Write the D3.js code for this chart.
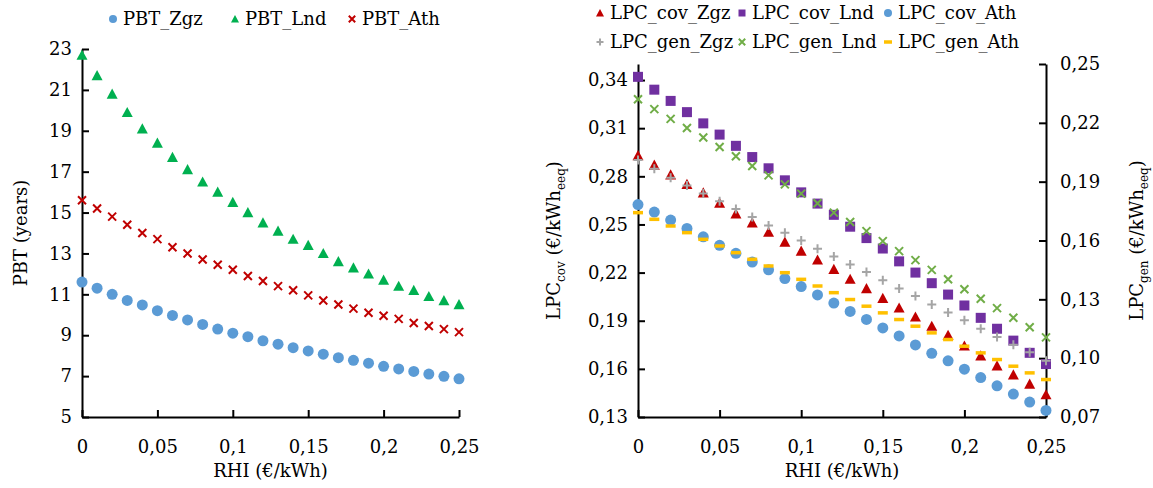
<!DOCTYPE html>
<html>
<head>
<meta charset="utf-8">
<script src="https://cdn.jsdelivr.net/npm/d3@7"></script>
<style>
  body { margin: 0; background: #fff; }
  svg { display: block; }
  text { font-family: "DejaVu Serif", serif; fill: #000; }
</style>
</head>
<body>
<svg id="chart" width="1153" height="488"></svg>
<script>
// RHI tariff (€/kWh) shared by every series
const rhi = [0, 0.01, 0.02, 0.03, 0.04, 0.05, 0.06, 0.07, 0.08, 0.09, 0.10, 0.11, 0.12,
             0.13, 0.14, 0.15, 0.16, 0.17, 0.18, 0.19, 0.20, 0.21, 0.22, 0.23, 0.24, 0.25];

// Payback time (years)
const pbtZgz = [11.6, 11.3, 11.0, 10.7, 10.48, 10.2, 9.97, 9.75, 9.53, 9.3, 9.1, 8.93, 8.73,
                8.56, 8.39, 8.23, 8.07, 7.9, 7.77, 7.63, 7.48, 7.35, 7.23, 7.1, 6.99, 6.87];
const pbtLnd = [22.7, 21.7, 20.8, 19.9, 19.1, 18.4, 17.7, 17.1, 16.5, 16.0, 15.5, 15.0, 14.5,
                14.1, 13.7, 13.4, 13.0, 12.6, 12.3, 12.0, 11.7, 11.4, 11.2, 10.9, 10.7, 10.5];
const pbtAth = [15.6, 15.2, 14.8, 14.4, 14.0, 13.7, 13.3, 13.0, 12.7, 12.45, 12.2, 11.9, 11.65,
                11.4, 11.2, 10.95, 10.7, 10.5, 10.3, 10.1, 9.95, 9.8, 9.6, 9.45, 9.3, 9.15];

// Levelised cost, coverage basis (left axis)
const lpcCovZgz = [0.293, 0.287, 0.281, 0.275, 0.2697, 0.2634, 0.2566, 0.251, 0.2452, 0.239, 0.2334, 0.2279, 0.2221,
                   0.2159, 0.2101, 0.204, 0.198, 0.1924, 0.1866, 0.181, 0.1743, 0.1681, 0.1619, 0.1563, 0.1505, 0.1439];
const lpcCovLnd = [0.342, 0.334, 0.327, 0.320, 0.313, 0.306, 0.299, 0.292, 0.285, 0.2775, 0.270, 0.263, 0.256,
                   0.2486, 0.2415, 0.235, 0.227, 0.220, 0.2134, 0.2063, 0.1995, 0.1918, 0.185, 0.1776, 0.170, 0.163];
const lpcCovAth = [0.2624, 0.2577, 0.2527, 0.2475, 0.2423, 0.237, 0.232, 0.2266, 0.2217, 0.2163, 0.2113, 0.2061, 0.201,
                   0.1958, 0.1908, 0.1855, 0.1805, 0.1749, 0.1697, 0.165, 0.1598, 0.1546, 0.1494, 0.1443, 0.1393, 0.1341];

// Levelised cost, generation basis (right axis)
const lpcGenZgz = [0.201, 0.1966, 0.192, 0.188, 0.184, 0.180, 0.176, 0.172, 0.1677, 0.164, 0.160, 0.1558, 0.1518,
                   0.1478, 0.1439, 0.1397, 0.1355, 0.1317, 0.1274, 0.1233, 0.1193, 0.115, 0.1108, 0.1069, 0.103, 0.0987];
const lpcGenLnd = [0.232, 0.227, 0.222, 0.2174, 0.2125, 0.2077, 0.203, 0.198, 0.1932, 0.1886, 0.1839, 0.179, 0.1742,
                   0.1694, 0.1648, 0.1597, 0.1546, 0.150, 0.145, 0.1402, 0.1351, 0.1303, 0.1255, 0.1206, 0.1158, 0.1106];
const lpcGenAth = [0.1742, 0.1708, 0.1674, 0.164, 0.1606, 0.1572, 0.1538, 0.1504, 0.147, 0.1436, 0.1402, 0.1368, 0.1334,
                   0.1299, 0.1265, 0.1231, 0.1197, 0.1163, 0.1129, 0.1095, 0.1061, 0.1027, 0.0993, 0.0959, 0.0925, 0.0891];

// Axis ticks and their labels
const xTicks = [0, 0.05, 0.1, 0.15, 0.2, 0.25];
const xTickLabels = ["0", "0,05", "0,1", "0,15", "0,2", "0,25"];
const pbtTicks = [5, 7, 9, 11, 13, 15, 17, 19, 21, 23];
const pbtTickLabels = ["5", "7", "9", "11", "13", "15", "17", "19", "21", "23"];
const covTicks = [0.13, 0.16, 0.19, 0.22, 0.25, 0.28, 0.31, 0.34];
const covTickLabels = ["0,13", "0,16", "0,19", "0,22", "0,25", "0,28", "0,31", "0,34"];
const genTicks = [0.07, 0.10, 0.13, 0.16, 0.19, 0.22, 0.25];
const genTickLabels = ["0,07", "0,10", "0,13", "0,16", "0,19", "0,22", "0,25"];

const COLORS = {
  blue: "#5B9BD5", green: "#00B050", red: "#C00000", purple: "#7030A0",
  gray: "#A5A5A5", lime: "#70AD47", yellow: "#FFC000"
};
const FONT = 18;
const FAMILY = '"DejaVu Serif", serif';

const svg = d3.select("#chart");

// Marker painter: s is the nominal marker size in px
function marker(g, type, color, x, y, s) {
  const h = s / 2;
  switch (type) {
    case "circle":
      g.append("circle").attr("cx", x).attr("cy", y).attr("r", h).attr("fill", color);
      break;
    case "triangle":
      g.append("path").attr("d", `M${x},${y - h}L${x + h},${y + h * 0.85}L${x - h},${y + h * 0.85}Z`).attr("fill", color);
      break;
    case "square":
      g.append("rect").attr("x", x - h).attr("y", y - h).attr("width", s).attr("height", s).attr("fill", color);
      break;
    case "cross":
      g.append("path").attr("d", `M${x - h * 0.8},${y - h * 0.8}L${x + h * 0.8},${y + h * 0.8}M${x - h * 0.8},${y + h * 0.8}L${x + h * 0.8},${y - h * 0.8}`)
        .attr("stroke", color).attr("stroke-width", 2).attr("fill", "none");
      break;
    case "plus":
      g.append("path").attr("d", `M${x - h},${y}L${x + h},${y}M${x},${y - h}L${x},${y + h}`)
        .attr("stroke", color).attr("stroke-width", 2).attr("fill", "none");
      break;
    case "dash":
      g.append("path").attr("d", `M${x - h},${y}L${x + h},${y}`)
        .attr("stroke", color).attr("stroke-width", 3.5).attr("fill", "none");
      break;
  }
}

function styleAxis(g) {
  g.selectAll("path.domain").attr("stroke", "#000").attr("stroke-width", 2);
  g.selectAll(".tick line").attr("stroke", "#000").attr("stroke-width", 2);
  g.selectAll(".tick text").attr("font-size", FONT).attr("font-family", FAMILY).attr("fill", "#000");
}

function plotSeries(g, data, xs, ys, type, color, size) {
  const layer = g.append("g");
  data.forEach((v, i) => marker(layer, type, color, xs(rhi[i]), ys(v), size));
}

function legendItem(g, type, color, x, y, label, size) {
  marker(g, type, color, x, y, size);
  g.append("text").attr("x", x + 10).attr("y", y).attr("dy", "0.35em")
    .attr("font-size", FONT).attr("font-family", FAMILY).text(label);
}

// ---------- Left panel: payback time ----------
const L = { left: 82, right: 459, top: 49, bottom: 417 };
const xL = d3.scaleLinear().domain([0, 0.25]).range([L.left, L.right]);
const yL = d3.scaleLinear().domain([5, 23]).range([L.bottom, L.top]);

const gL = svg.append("g");
gL.append("g").attr("transform", `translate(0,${L.bottom})`)
  .call(d3.axisBottom(xL).tickValues(xTicks).tickFormat((d, i) => xTickLabels[i]).tickSizeInner(-7).tickSizeOuter(0).tickPadding(23))
  .call(styleAxis);
gL.append("g").attr("transform", `translate(${L.left},0)`)
  .call(d3.axisLeft(yL).tickValues(pbtTicks).tickFormat((d, i) => pbtTickLabels[i]).tickSizeInner(-7).tickSizeOuter(0).tickPadding(10))
  .call(styleAxis);

plotSeries(gL, pbtZgz, xL, yL, "circle", COLORS.blue, 11);
plotSeries(gL, pbtLnd, xL, yL, "triangle", COLORS.green, 11);
plotSeries(gL, pbtAth, xL, yL, "cross", COLORS.red, 10);

gL.append("text").attr("x", (L.left + L.right) / 2).attr("y", 477).attr("text-anchor", "middle")
  .attr("font-size", FONT).attr("font-family", FAMILY).text("RHI (€/kWh)");
gL.append("text").attr("transform", `translate(27,${(L.top + L.bottom) / 2}) rotate(-90)`)
  .attr("text-anchor", "middle").attr("font-size", FONT).attr("font-family", FAMILY).text("PBT (years)");

const legL = svg.append("g");
legendItem(legL, "circle", COLORS.blue, 113, 19, "PBT_Zgz", 8);
legendItem(legL, "triangle", COLORS.green, 235, 19, "PBT_Lnd", 8);
legendItem(legL, "cross", COLORS.red, 352, 19, "PBT_Ath", 8);

// ---------- Right panel: levelised cost ----------
const R = { left: 638, right: 1046, top: 64, bottom: 417 };
const xR = d3.scaleLinear().domain([0, 0.25]).range([R.left, R.right]);
const yCov = d3.scaleLinear().domain([0.13, 0.35]).range([R.bottom, R.top]);
const yGen = d3.scaleLinear().domain([0.07, 0.25]).range([R.bottom, R.top]);

const gR = svg.append("g");
gR.append("g").attr("transform", `translate(0,${R.bottom})`)
  .call(d3.axisBottom(xR).tickValues(xTicks).tickFormat((d, i) => xTickLabels[i]).tickSizeInner(-7).tickSizeOuter(0).tickPadding(23))
  .call(styleAxis);
gR.append("g").attr("transform", `translate(${R.left},0)`)
  .call(d3.axisLeft(yCov).tickValues(covTicks).tickFormat((d, i) => covTickLabels[i]).tickSizeInner(-7).tickSizeOuter(0).tickPadding(10))
  .call(styleAxis);
gR.append("g").attr("transform", `translate(${R.right},0)`)
  .call(d3.axisRight(yGen).tickValues(genTicks).tickFormat((d, i) => genTickLabels[i]).tickSizeInner(-7).tickSizeOuter(0).tickPadding(14))
  .call(styleAxis);

plotSeries(gR, lpcCovZgz, xR, yCov, "triangle", COLORS.red, 11);
plotSeries(gR, lpcCovLnd, xR, yCov, "square", COLORS.purple, 10);
plotSeries(gR, lpcCovAth, xR, yCov, "circle", COLORS.blue, 11);
plotSeries(gR, lpcGenZgz, xR, yGen, "plus", COLORS.gray, 9);
plotSeries(gR, lpcGenLnd, xR, yGen, "cross", COLORS.lime, 10);
plotSeries(gR, lpcGenAth, xR, yGen, "dash", COLORS.yellow, 10);

gR.append("text").attr("x", (R.left + R.right) / 2).attr("y", 477).attr("text-anchor", "middle")
  .attr("font-size", FONT).attr("font-family", FAMILY).text("RHI (€/kWh)");

// axis titles with subscripts
function subTitle(g, x, y, sub) {
  const t = g.append("text").attr("transform", `translate(${x},${y}) rotate(-90)`)
    .attr("text-anchor", "middle").attr("font-size", FONT).attr("font-family", FAMILY);
  t.append("tspan").text("LPC");
  t.append("tspan").attr("font-size", 12).attr("dy", 5).text(sub);
  t.append("tspan").attr("dy", -5).text(" (€/kWh");
  t.append("tspan").attr("font-size", 12).attr("dy", 5).text("eeq");
  t.append("tspan").attr("dy", -5).text(")");
}
subTitle(gR, 560, (R.top + R.bottom) / 2, "cov");
subTitle(gR, 1143, (R.top + R.bottom) / 2, "gen");

const legR = svg.append("g");
legendItem(legR, "triangle", COLORS.red, 600, 13, "LPC_cov_Zgz", 8);
legendItem(legR, "square", COLORS.purple, 742, 13, "LPC_cov_Lnd", 7);
legendItem(legR, "circle", COLORS.blue, 888, 13, "LPC_cov_Ath", 8);
legendItem(legR, "plus", COLORS.gray, 600, 42, "LPC_gen_Zgz", 7);
legendItem(legR, "cross", COLORS.lime, 742, 42, "LPC_gen_Lnd", 8);
legendItem(legR, "dash", COLORS.yellow, 888, 42, "LPC_gen_Ath", 8);
</script>
</body>
</html>
